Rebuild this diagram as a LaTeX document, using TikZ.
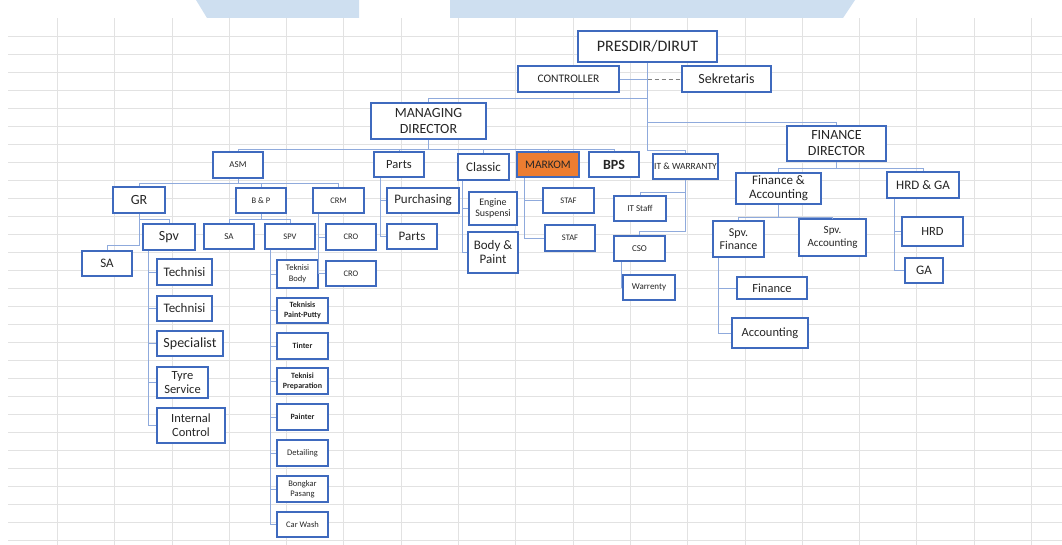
\documentclass[tikz,border=0pt]{standalone}
\usepackage{fontspec}
\setmainfont{Carlito}
\usepackage{tikz}
\usetikzlibrary{positioning}
\definecolor{boxblue}{RGB}{63,106,190}
\definecolor{lineblue}{RGB}{143,170,220}
\definecolor{gridgray}{RGB}{226,226,226}
\definecolor{bandblue}{RGB}{206,223,240}
\definecolor{markomorange}{RGB}{237,125,49}
\definecolor{txt}{RGB}{38,38,38}
\newcommand{\sz}[2]{\fontsize{#1}{#2}\selectfont}
\tikzset{box/.style={draw=boxblue, line width=1.8pt, fill=white, inner sep=0pt, align=center, text=txt},
wh/.style 2 args={minimum width=#1, minimum height=#2},
link/.style={draw=lineblue, line width=0.9pt},
gridline/.style={draw=gridgray, line width=0.7pt}
}

\begin{document}
\begin{tikzpicture}[x=1pt, y=-1pt]
        \useasboundingbox (0,0) rectangle (1062,545);
        % sheet background
        \fill[bandblue] (196,0) -- (359,0) -- (359,18) -- (207,18) -- cycle;
        \fill[bandblue] (450,0) -- (855,0) -- (843,18) -- (450,18) -- cycle;
        \foreach \y in {0,...,28}
            \draw[gridline] (8,540-18*\y) -- (1062,540-18*\y);
        \foreach \x in {1,...,18}
            \draw[gridline] (57.3*\x,18) -- (57.3*\x,545);

        % top level
        \node[box, wh={139}{31}, font=\sz{16}{18}]          (presdir)    at (647.5,46.5) {PRESDIR/DIRUT};
        \node[box, wh={101}{26}, font=\sz{11.5}{13}]        (controller) at (568.5,79)   {CONTROLLER};
        \node[box, wh={89}{26}, font=\sz{14}{16}]           (sekretaris) at (726.5,79)   {Sekretaris};
        \node[box, wh={115}{36}, font=\sz{14}{16}]          (md)         at (428.5,121)  {MANAGING\\DIRECTOR};
        \node[box, wh={99}{35}, font=\sz{14}{16}]           (fd)         at (836.5,143.5) {FINANCE\\DIRECTOR};

        % managing director
        \node[box, wh={50}{26}, font=\sz{9}{10}]            (asm)        at (238,165)    {ASM};
        \node[box, wh={50}{25}, font=\sz{12.5}{14}]         (parts)      at (399,164.5)  {Parts};
        \node[box, wh={51}{26}, font=\sz{13}{14}]           (classic)    at (483.5,167)  {Classic};
        \node[box, wh={62}{25}, font=\sz{11.5}{13}, fill=markomorange] (markom) at (548,164.5) {MARKOM};
        \node[box, wh={50}{25}, font=\sz{14}{16}\bfseries]  (bps)        at (614,164.5)  {BPS};
        \node[box, wh={65}{25}, font=\sz{9.5}{10}]          (itw)        at (685.5,166.5) {IT \& WARRANTY};

        % ASM
        \node[box, wh={52}{26}, font=\sz{14}{16}]           (gr)         at (139,200)    {GR};
        \node[box, wh={50}{25}, font=\sz{8.5}{9}]           (bp)         at (261,200.5)  {B \& P};
        \node[box, wh={51}{25}, font=\sz{8.5}{9}]           (crm)        at (338.5,200.5) {CRM};
        \node[box, wh={50}{25}, font=\sz{13}{14}]           (sa1)        at (107,263.5)  {SA};
        \node[box, wh={52}{26}, font=\sz{14}{16}]           (spv1)       at (169,237)    {Spv};
        \node[box, wh={50}{25}, font=\sz{9}{10}]            (sa2)        at (229,236.5)  {SA};
        \node[box, wh={50}{25}, font=\sz{8.5}{9}]           (spv2)       at (290,236.5)  {SPV};
        \node[box, wh={50}{26}, font=\sz{8.5}{9}]           (cro1)       at (351,237)    {CRO};
        \node[box, wh={50}{25}, font=\sz{8.5}{9}]           (cro2)       at (351,273.5)  {CRO};

        \node[box, wh={55}{26}, font=\sz{13}{14}]           (tech1)      at (184.5,272)  {Technisi};
        \node[box, wh={55}{25}, font=\sz{13}{14}]           (tech2)      at (184.5,308.5) {Technisi};
        \node[box, wh={66}{25}, font=\sz{14}{15}]           (spec)       at (190,343.5)  {Specialist};
        \node[box, wh={51}{31}, font=\sz{12.5}{14}]         (tyre)       at (182.5,382.5) {Tyre\\Service};
        \node[box, wh={68}{35}, font=\sz{12.5}{14}]         (ic)         at (191,425.5)  {Internal\\Control};

        \node[box, wh={41}{28}, font=\sz{8.5}{11}]          (tb)         at (297.5,274)  {Teknisi\\Body};
        \node[box, wh={51}{25}, font=\sz{8}{10}\bfseries]   (tpp)        at (302.5,310.5) {Teknisis\\Paint-Putty};
        \node[box, wh={51}{26}, font=\sz{8}{10}\bfseries]   (tinter)     at (302.5,346)  {Tinter};
        \node[box, wh={51}{26}, font=\sz{8}{10}\bfseries]   (tprep)      at (302.5,381)  {Teknisi\\Preparation};
        \node[box, wh={51}{26}, font=\sz{8}{10}\bfseries]   (painter)    at (302.5,417)  {Painter};
        \node[box, wh={51}{26}, font=\sz{8.5}{10}]          (detailing)  at (302.5,453)  {Detailing};
        \node[box, wh={51}{26}, font=\sz{8.5}{10}]          (bongkar)    at (302.5,489)  {Bongkar\\Pasang};
        \node[box, wh={51}{25}, font=\sz{8.5}{10}]          (carwash)    at (302.5,524.5) {Car Wash};

        % parts, classic, markom
        \node[box, wh={72}{25}, font=\sz{13}{14}]           (purch)      at (423,200.5)  {Purchasing};
        \node[box, wh={50}{25}, font=\sz{13}{14}]           (parts2)     at (412,236.5)  {Parts};
        \node[box, wh={48}{33}, font=\sz{10}{11}]           (engine)     at (493,208.5)  {Engine\\Suspensi};
        \node[box, wh={50}{41}, font=\sz{13}{14}]           (body)       at (493,252.5)  {Body \&\\Paint};
        \node[box, wh={51}{25}, font=\sz{8.5}{9}]           (staf1)      at (568.5,200.5) {STAF};
        \node[box, wh={50}{26}, font=\sz{8.5}{9}]           (staf2)      at (570,238)    {STAF};

        % IT & warranty
        \node[box, wh={52}{25}, font=\sz{9}{10}]            (itstaff)    at (640,208.5)  {IT Staff};
        \node[box, wh={51}{25}, font=\sz{9}{10}]            (cso)        at (639.5,248.5) {CSO};
        \node[box, wh={52}{25}, font=\sz{9}{10}]            (warrenty)   at (649,287.5)  {Warrenty};

        % finance director
        \node[box, wh={85}{31}, font=\sz{13}{14}]           (fa)         at (778.5,188.5) {Finance \&\\Accounting};
        \node[box, wh={72}{26}, font=\sz{13}{14}]           (hrdga)      at (923,185)    {HRD \& GA};
        \node[box, wh={51}{36}, font=\sz{12}{13}]           (spvfin)     at (738.5,239)  {Spv.\\Finance};
        \node[box, wh={67}{37}, font=\sz{11}{13}]           (spvacc)     at (832.5,237.5) {Spv.\\Accounting};
        \node[box, wh={61}{29}, font=\sz{12.5}{14}]         (hrd)        at (932.5,231.5) {HRD};
        \node[box, wh={38}{25}, font=\sz{13}{14}]           (ga)         at (924,270.5)  {GA};
        \node[box, wh={70}{22}, font=\sz{12.5}{14}]         (finance)    at (772,288)    {Finance};
        \node[box, wh={76}{30}, font=\sz{12.5}{14}]         (accounting) at (770,333)    {Accounting};

        % connectors
        \draw[link] (presdir.south) -- ++(0,36) -| (md.north);
        \draw[link] (presdir.south) -- ++(0,60) -| (fd.north);
        \draw[link] (presdir.south) -- ++(0,88) -| (itw.north);
        \draw[link] (controller.east) -- (controller.east -| presdir.south);
        \draw[draw=gray, line width=0.9pt, dash pattern=on 4pt off 3pt] (controller.east -| presdir.south) -- (sekretaris.west);

        \foreach \c in {asm,parts,classic,markom,bps}
            \draw[link] (md.south) -- ++(0,10) -| (\c.north);
        \foreach \c in {gr,bp,crm}
            \draw[link] (asm.south) -- ++(0,5) -| (\c.north);
        \draw[link] (gr.south) -- ++(0,32) -| (sa1.north);
        \draw[link] (gr.south) -- ++(0,6) -| (spv1.north);
        \foreach \c in {tech1,tech2,spec,tyre,ic}
            \draw[link] ([xshift=6pt]spv1.south west) |- (\c.west);
        \foreach \c in {sa2,spv2}
            \draw[link] (bp.south) -- ++(0,6) -| (\c.north);
        \foreach \c in {tb,tpp,tinter,tprep,painter,detailing,bongkar,carwash}
            \draw[link] ([xshift=6pt]spv2.south west) |- (\c.west);
        \foreach \c in {cro1,cro2}
            \draw[link] ([xshift=6pt]crm.south west) |- (\c.west);
        \foreach \c in {purch,parts2}
            \draw[link] ([xshift=7pt]parts.south west) |- (\c.west);
        \foreach \c in {engine,body}
            \draw[link] ([xshift=5pt]classic.south west) |- (\c.west);
        \foreach \c in {staf1,staf2}
            \draw[link] ([xshift=8pt]markom.south west) |- (\c.west);
        \draw[link] (itw.south) -- ++(0,13) -| (itstaff.north);
        \draw[link] (itw.south) -- ++(0,52) -| (cso.north);
        \draw[link] ([xshift=8pt]cso.south west) |- (warrenty.west);
        \foreach \c in {fa,hrdga}
            \draw[link] (fd.south) -- ++(0,7) -| (\c.north);
        \foreach \c in {spvfin,spvacc}
            \draw[link] (fa.south) -- ++(0,13) -| (\c.north);
        \foreach \c in {hrd,ga}
            \draw[link] ([xshift=8pt]hrdga.south west) |- (\c.west);
        \foreach \c in {finance,accounting}
            \draw[link] ([xshift=6pt]spvfin.south west) |- (\c.west);
\end{tikzpicture}
\end{document}
